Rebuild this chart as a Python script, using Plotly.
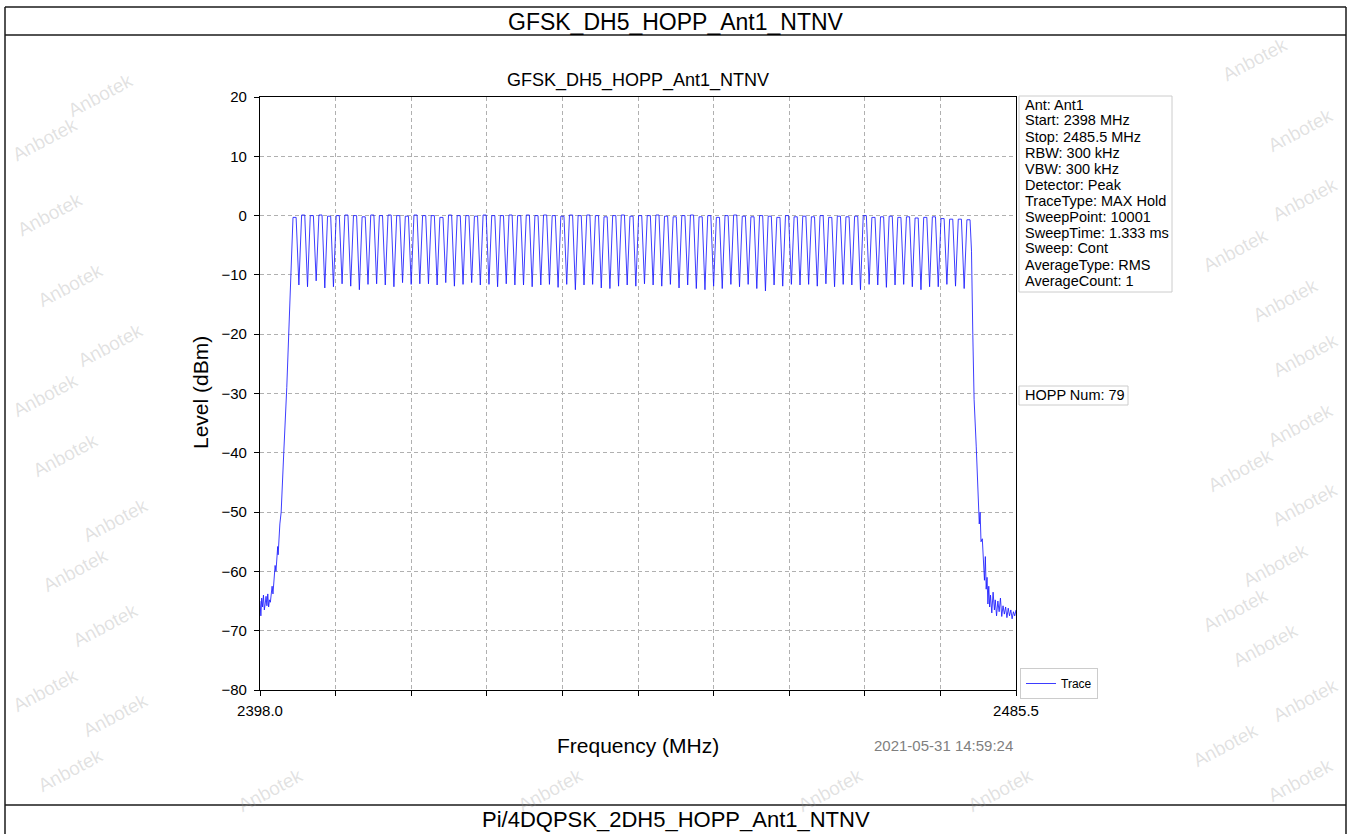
import plotly.graph_objects as go

# ---------------- data ----------------
channel_freq_mhz = [
    2402, 2403, 2404, 2405, 2406, 2407, 2408, 2409, 2410, 2411,
    2412, 2413, 2414, 2415, 2416, 2417, 2418, 2419, 2420, 2421,
    2422, 2423, 2424, 2425, 2426, 2427, 2428, 2429, 2430, 2431,
    2432, 2433, 2434, 2435, 2436, 2437, 2438, 2439, 2440, 2441,
    2442, 2443, 2444, 2445, 2446, 2447, 2448, 2449, 2450, 2451,
    2452, 2453, 2454, 2455, 2456, 2457, 2458, 2459, 2460, 2461,
    2462, 2463, 2464, 2465, 2466, 2467, 2468, 2469, 2470, 2471,
    2472, 2473, 2474, 2475, 2476, 2477, 2478, 2479, 2480,
]
peak_level_dbm = [
    -0.3, 0.1, 0.0, 0.1, -0.1, 0.0, 0.1, 0.0, -0.2, 0.1,
    0.0, 0.1, 0.0, -0.1, 0.1, 0.0, 0.0, -0.3, 0.1, 0.0,
    0.0, -0.1, 0.1, 0.0, 0.0, 0.1, 0.0, 0.1, 0.0, 0.1,
    0.0, -0.1, 0.1, 0.0, 0.1, 0.0, -0.2, 0.0, 0.1, -0.1,
    0.0, 0.0, 0.1, -0.1, -0.2, 0.0, 0.1, -0.2, 0.0, -0.3,
    0.0, 0.1, -0.1, -0.2, 0.0, -0.1, -0.3, 0.0, -0.2, -0.1,
    -0.2, 0.0, -0.3, -0.1, -0.2, -0.1, 0.0, -0.3, -0.2, -0.1,
    -0.3, -0.2, -0.4, -0.3, -0.2, -0.5, -0.6, -0.6, -0.7,
]
dip_level_dbm = [
    -11.7, -12.0, -11.0, -12.2, -12.0, -11.5, -11.9, -12.5, -11.6, -11.5,
    -11.7, -12.0, -11.3, -11.6, -11.5, -11.5, -11.7, -11.3, -11.9, -11.6,
    -11.3, -11.7, -11.6, -12.0, -11.5, -11.7, -11.7, -12.0, -11.7, -11.6,
    -12.1, -11.6, -12.5, -11.7, -11.6, -12.2, -12.3, -11.9, -11.7, -11.9,
    -11.5, -11.7, -11.9, -11.6, -12.2, -11.7, -12.3, -12.5, -11.9, -12.3,
    -11.6, -12.0, -11.6, -12.3, -12.7, -11.7, -11.9, -11.6, -11.7, -11.6,
    -11.9, -11.5, -12.0, -11.6, -11.7, -12.5, -11.6, -11.7, -12.1, -11.7,
    -11.6, -12.0, -12.5, -12.0, -12.0, -11.6, -11.9, -12.3,
]
left_skirt_freq_mhz = [
    2398.0, 2398.1, 2398.2, 2398.3, 2398.4, 2398.5, 2398.6, 2398.7, 2398.8, 2398.9,
    2399.0, 2399.1, 2399.2, 2399.3, 2399.4, 2399.5, 2399.6, 2399.75, 2399.85, 2399.95,
    2400.05, 2400.1, 2400.2, 2400.3, 2400.45, 2400.6, 2400.75, 2401.1, 2401.4, 2401.65,
]
left_skirt_level_dbm = [
    -65.0, -67.5, -64.5, -66.0, -64.0, -66.5, -65.5, -64.2, -65.8, -63.8,
    -66.0, -64.8, -65.2, -63.5, -62.5, -63.8, -61.0, -59.0, -60.0, -57.0,
    -55.8, -57.2, -53.0, -52.0, -50.0, -44.0, -40.0, -29.0, -17.0, -6.0,
]
right_skirt_freq_mhz = [
    2480.35, 2480.5, 2480.65, 2480.9, 2481.1, 2481.25, 2481.35, 2481.45, 2481.6, 2481.7,
    2481.85, 2481.95, 2482.05, 2482.15, 2482.25, 2482.35, 2482.45, 2482.55, 2482.7, 2482.85,
    2483.0, 2483.1, 2483.25, 2483.4, 2483.55, 2483.7, 2483.85, 2484.0, 2484.15, 2484.3,
    2484.45, 2484.6, 2484.75, 2484.9, 2485.05, 2485.2, 2485.35, 2485.5,
]
right_skirt_level_dbm = [
    -6.0, -20.0, -31.0, -39.0, -45.0, -52.0, -50.0, -55.0, -54.5, -58.0,
    -61.5, -57.5, -63.0, -61.0, -65.5, -62.5, -66.0, -64.0, -67.0, -63.5,
    -66.5, -64.8, -67.5, -65.0, -66.8, -64.5, -67.6, -65.8, -67.2, -66.0,
    -67.8, -66.2, -67.5, -66.5, -68.0, -66.8, -67.5, -66.5,
]
x_tick_vals = [2398.0, 2406.75, 2415.5, 2424.25, 2433.0, 2441.75,
               2450.5, 2459.25, 2468.0, 2476.75, 2485.5]
x_tick_text = ["2398.0", "", "", "", "", "", "", "", "", "", "2485.5"]
y_tick_vals = [-80, -70, -60, -50, -40, -30, -20, -10, 0, 10, 20]

doc_title = "GFSK_DH5_HOPP_Ant1_NTNV"
next_title = "Pi/4DQPSK_2DH5_HOPP_Ant1_NTNV"
plot_title = "GFSK_DH5_HOPP_Ant1_NTNV"
info_lines = ["Ant: Ant1", "Start: 2398 MHz", "Stop: 2485.5 MHz", "RBW: 300 kHz",
              "VBW: 300 kHz", "Detector: Peak", "TraceType: MAX Hold",
              "SweepPoint: 10001", "SweepTime: 1.333 ms", "Sweep: Cont",
              "AverageType: RMS", "AverageCount: 1"]
hopp_text = "HOPP Num: 79"
timestamp = "2021-05-31 14:59:24"
watermark = "Anbotek"

# ---------------- build trace from the read values ----------------
xs = list(left_skirt_freq_mhz)
ys = list(left_skirt_level_dbm)
for i, f in enumerate(channel_freq_mhz):
    xs += [f - 0.18, f + 0.18]
    ys += [peak_level_dbm[i], peak_level_dbm[i]]
    if i < len(dip_level_dbm):
        xs.append((f + channel_freq_mhz[i + 1]) / 2.0)
        ys.append(dip_level_dbm[i])
xs += right_skirt_freq_mhz
ys += right_skirt_level_dbm

# ---------------- layout geometry (pixels) ----------------
W, H = 1351, 834
PL, PR, PT, PB = 260, 1016, 97, 690
FONT = "Liberation Sans, Arial, Helvetica, sans-serif"


def fx(px):
    return (px - PL) / (PR - PL)


def fy(py):
    return (PB - py) / (PB - PT)


fig = go.Figure()
fig.add_trace(go.Scatter(x=xs, y=ys, mode="lines", name="Trace",
                         line=dict(color="#1a1aff", width=0.85)))

annotations = []
shapes = []


def text(px, py, s, size, color="black", xanchor="center", yanchor="middle", angle=0):
    annotations.append(dict(x=fx(px), y=fy(py), xref="paper", yref="paper", text=s,
                            showarrow=False, xanchor=xanchor, yanchor=yanchor,
                            textangle=angle, font=dict(size=size, color=color, family=FONT)))


def line(x0, y0, x1, y1, color="#1a1a1a", width=1.5):
    shapes.append(dict(type="line", xref="paper", yref="paper", x0=fx(x0), y0=fy(y0),
                       x1=fx(x1), y1=fy(y1), line=dict(color=color, width=width)))


# document table borders
line(5, 7, 1346, 7)
line(5, 35, 1346, 35)
line(5, 805, 1346, 805)
line(5, 7, 5, 834)
line(1346, 7, 1346, 834)

text(676, 22, doc_title, 23)
text(676, 819, next_title, 22)

# chart texts
text(638, 80, plot_title, 18)
text(638, 745, "Frequency (MHz)", 21)
text(200, 393, "Level (dBm)", 21, angle=-90)
text(1015, 745, timestamp, 15, color="#7f7f7f", xanchor="right")

# info box
shapes.append(dict(type="rect", xref="paper", yref="paper", x0=fx(1019), x1=fx(1172),
                   y0=fy(96), y1=fy(292), line=dict(color="#cccccc", width=1),
                   fillcolor="white", layer="below"))
for i, s in enumerate(info_lines):
    text(1023, 104.5 + 16 * i, s, 14.5, xanchor="left")

shapes.append(dict(type="rect", xref="paper", yref="paper", x0=fx(1019), x1=fx(1128),
                   y0=fy(386), y1=fy(405), line=dict(color="#cccccc", width=1),
                   fillcolor="white", layer="below"))
text(1023, 395.5, hopp_text, 14.5, xanchor="left")

# watermarks (outside the chart image region)
wm_pos = [(100, 95), (45, 140), (50, 215), (70, 285), (110, 345), (45, 395), (65, 455),
          (115, 520), (75, 570), (105, 625), (45, 690), (115, 715), (70, 770),
          (1255, 60), (1300, 130), (1305, 200), (1235, 250), (1285, 300), (1305, 355),
          (1300, 425), (1240, 470), (1305, 505), (1275, 565), (1235, 610), (1265, 645),
          (1305, 700), (1225, 745), (1300, 780),
          (270, 790), (550, 790), (830, 790), (1000, 790)]
for (wx, wy) in wm_pos:
    text(wx, wy, watermark, 19, color="rgba(150,150,150,0.28)", angle=-28)

fig.update_layout(
    width=W, height=H, autosize=False,
    margin=dict(l=PL, r=W - PR, t=PT, b=H - PB, pad=0),
    paper_bgcolor="white", plot_bgcolor="white",
    font=dict(family=FONT, color="black"),
    showlegend=True,
    legend=dict(x=fx(1020), xanchor="left", y=fy(668), yanchor="top",
                bordercolor="#cccccc", borderwidth=1, bgcolor="white",
                font=dict(size=12, family=FONT), itemwidth=30,
                tracegroupgap=0),
    annotations=annotations,
    shapes=shapes,
    xaxis=dict(range=[2398.0, 2485.5], tickmode="array", tickvals=x_tick_vals,
               ticktext=x_tick_text, ticks="outside", ticklen=5, tickwidth=1,
               tickcolor="black", showline=True, linecolor="black", linewidth=1.3,
               mirror=True, showgrid=True, gridcolor="#b0b0b0", gridwidth=0.8,
               griddash="4px,3px", zeroline=False, tickfont=dict(size=15),
               ticklabelstandoff=2),
    yaxis=dict(range=[-80, 20], tickmode="array", tickvals=y_tick_vals,
               ticks="outside", ticklen=5, tickwidth=1, tickcolor="black",
               showline=True, linecolor="black", linewidth=1.3, mirror=True,
               showgrid=True, gridcolor="#b0b0b0", gridwidth=0.8,
               griddash="4px,3px", zeroline=False, tickfont=dict(size=15),
               ticklabelstandoff=4),
)

fig.write_html("out.html",
               config={"displayModeBar": False},
               post_script="document.body.style.margin='0';document.body.style.padding='0';"
                           "document.documentElement.style.overflow='hidden';")
